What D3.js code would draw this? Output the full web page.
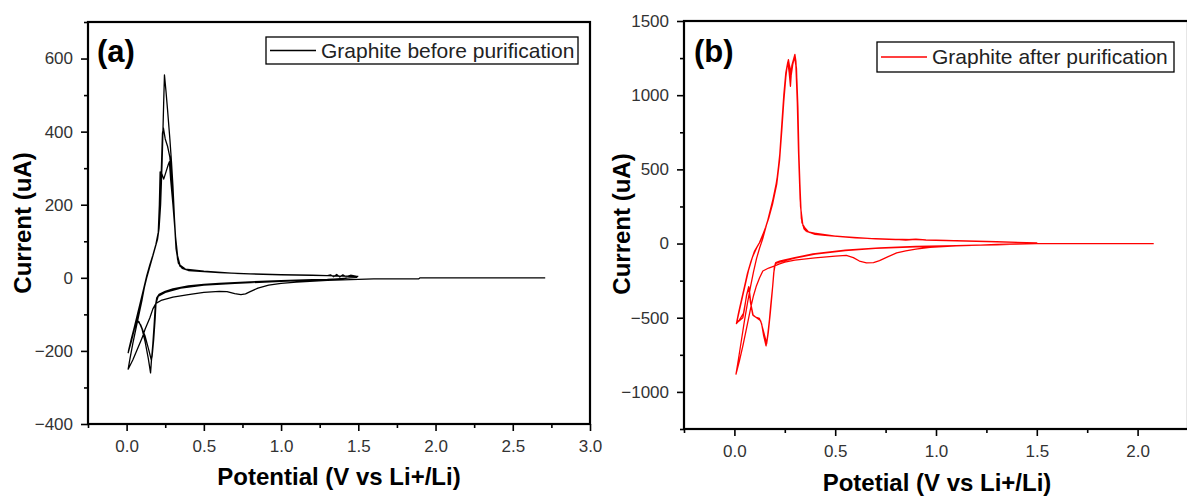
<!DOCTYPE html>
<html>
<head>
<meta charset="utf-8">
<script src="https://cdn.jsdelivr.net/npm/d3@7"></script>
<style>
  body { margin: 0; background: #fff; }
  text { font-family: "Liberation Sans", Arial, sans-serif; }
  .tick text { font-family: "Liberation Sans Narrow", "Arial Narrow", "Liberation Sans", sans-serif; }
</style>
</head>
<body>
<div id="chart"></div>
<script>

// ---------- panel (a): graphite before purification, [V, uA] ----------
var aCathodic1 = [[2.71,0],[2.3,0],[1.9,0],[1.89,-3],[1.6,-3],[1.5,-4],[1.3,-7],[1.1,-12],[1.0,-15],[0.92,-20],[0.85,-28],[0.8,-38],[0.77,-44],[0.74,-46],[0.7,-43],[0.65,-38],[0.6,-37],[0.5,-40],[0.4,-46],[0.3,-53],[0.223,-62],[0.19,-70],[0.17,-85],[0.15,-110],[0.12,-140],[0.1,-165],[0.07,-195],[0.04,-225],[0.01,-250]];
var aAnodic1 = [[0.01,-250],[0.02,-225],[0.04,-180],[0.06,-140],[0.08,-100],[0.1,-60],[0.12,-15],[0.14,15],[0.16,45],[0.18,75],[0.2,105],[0.21,135],[0.22,200],[0.23,320],[0.24,480],[0.245,555],[0.255,510],[0.265,460],[0.28,380],[0.29,320],[0.3,250],[0.31,160],[0.32,90],[0.33,50],[0.345,32],[0.37,25],[0.4,21],[0.5,17],[0.6,15],[0.7,12],[0.8,11],[1.0,9],[1.2,7],[1.3,6],[1.32,8],[1.34,3],[1.36,9],[1.38,2],[1.4,8],[1.42,3],[1.45,7],[1.49,4]];
var aCathodic2 = [[1.49,2],[1.4,-2],[1.3,-4],[1.2,-5],[1.0,-8],[0.8,-11],[0.6,-15],[0.5,-18],[0.4,-22],[0.3,-30],[0.25,-37],[0.21,-45],[0.195,-55],[0.185,-80],[0.178,-130],[0.17,-180],[0.16,-230],[0.155,-260],[0.14,-220],[0.12,-175],[0.1,-140],[0.08,-120],[0.065,-117],[0.05,-135],[0.03,-170],[0.01,-205]];
var aAnodic2 = [[0.01,-205],[0.03,-175],[0.05,-140],[0.07,-105],[0.09,-70],[0.11,-35],[0.13,0],[0.15,30],[0.17,60],[0.19,90],[0.205,120],[0.215,180],[0.225,300],[0.232,395],[0.238,410],[0.25,380],[0.265,360],[0.28,330],[0.29,280],[0.3,220],[0.31,150],[0.32,80],[0.335,40],[0.36,26],[0.4,20],[0.6,14],[0.8,11],[1.0,8],[1.3,6],[1.49,3]];
var aCathodic3 = [[1.49,1],[1.3,-5],[1.0,-10],[0.7,-15],[0.5,-20],[0.35,-28],[0.25,-40],[0.205,-50],[0.19,-70],[0.185,-110],[0.175,-170],[0.165,-215],[0.16,-225],[0.145,-200],[0.12,-160],[0.09,-128],[0.07,-118],[0.05,-140],[0.03,-175],[0.012,-200]];
var aAnodic3 = [[0.012,-200],[0.03,-168],[0.05,-135],[0.07,-100],[0.09,-65],[0.11,-30],[0.13,5],[0.15,35],[0.17,62],[0.19,92],[0.205,125],[0.212,200],[0.217,290],[0.228,285],[0.24,270],[0.255,290],[0.27,310],[0.277,318],[0.285,270],[0.3,200],[0.315,120],[0.33,60],[0.345,35],[0.38,24],[0.5,18],[0.7,12],[1.0,8],[1.3,6],[1.5,4]];

// ---------- panel (b): graphite after purification, [V, uA] ----------
var bCathodic1 = [[2.08,0],[1.8,0],[1.5,-1],[1.4,-4],[1.3,-8],[1.22,-11],[1.1,-16],[0.97,-25],[0.9,-38],[0.85,-50],[0.805,-63],[0.76,-90],[0.72,-115],[0.69,-128],[0.655,-130],[0.62,-118],[0.59,-95],[0.555,-80],[0.5,-85],[0.4,-97],[0.3,-112],[0.25,-125],[0.224,-137],[0.2,-150],[0.17,-165],[0.141,-185],[0.125,-230],[0.108,-290],[0.095,-350],[0.083,-420],[0.065,-540],[0.042,-690],[0.025,-790],[0.008,-880]];
var bAnodic1 = [[0.008,-880],[0.02,-780],[0.035,-650],[0.05,-520],[0.065,-400],[0.08,-290],[0.095,-190],[0.11,-100],[0.125,-30],[0.14,30],[0.166,160],[0.19,290],[0.21,420],[0.224,580],[0.235,800],[0.245,1000],[0.255,1150],[0.265,1225],[0.272,1150],[0.278,1060],[0.285,1200],[0.295,1250],[0.3,1275],[0.305,1230],[0.31,1100],[0.315,920],[0.32,600],[0.325,400],[0.332,170],[0.345,100],[0.357,83],[0.4,62],[0.45,55],[0.522,48],[0.6,40],[0.7,32],[0.8,27],[0.9,26],[1.05,22],[1.2,15],[1.3,12],[1.4,8],[1.5,5]];
var bCathodic2 = [[1.5,3],[1.4,-3],[1.3,-6],[1.22,-10],[1.1,-14],[0.9,-20],[0.72,-29],[0.55,-45],[0.39,-70],[0.3,-95],[0.25,-110],[0.224,-119],[0.205,-128],[0.198,-160],[0.19,-287],[0.18,-420],[0.174,-511],[0.165,-620],[0.157,-690],[0.145,-620],[0.135,-540],[0.124,-505],[0.105,-495],[0.091,-480],[0.08,-400],[0.071,-290],[0.06,-350],[0.05,-440],[0.042,-500],[0.02,-525],[0.01,-540]];
var bAnodic2 = [[0.01,-540],[0.02,-470],[0.035,-380],[0.05,-290],[0.065,-200],[0.08,-130],[0.1,-50],[0.124,5],[0.15,90],[0.17,170],[0.19,270],[0.21,400],[0.224,560],[0.235,760],[0.245,960],[0.255,1120],[0.262,1200],[0.268,1240],[0.275,1180],[0.28,1120],[0.29,1210],[0.298,1260],[0.305,1200],[0.312,950],[0.318,620],[0.326,300],[0.335,140],[0.36,80],[0.45,55],[0.6,38],[0.8,28],[0.85,24],[0.9,29],[0.95,24],[1.0,22],[1.2,14],[1.4,8],[1.5,4]];
var bCathodic3 = [[1.5,2],[1.3,-7],[1.1,-15],[0.9,-22],[0.7,-32],[0.55,-48],[0.4,-72],[0.3,-98],[0.224,-125],[0.203,-135],[0.195,-200],[0.188,-320],[0.178,-470],[0.168,-600],[0.16,-675],[0.148,-610],[0.13,-520],[0.11,-500],[0.093,-485],[0.082,-410],[0.073,-300],[0.062,-340],[0.045,-470],[0.025,-515],[0.012,-530]];
var bAnodic3 = [[0.012,-530],[0.025,-450],[0.04,-360],[0.055,-270],[0.07,-180],[0.09,-90],[0.11,-30],[0.13,20],[0.155,110],[0.18,220],[0.2,340],[0.215,470],[0.228,640],[0.24,880],[0.25,1060],[0.26,1180],[0.267,1230],[0.273,1200],[0.283,1150],[0.292,1230],[0.3,1265],[0.308,1180],[0.314,900],[0.32,550],[0.328,250],[0.34,120],[0.37,75],[0.5,50],[0.7,32],[0.9,26],[1.1,20],[1.3,12],[1.45,6],[1.5,4]];

// tick values
var aXTicks = [0, 0.5, 1.0, 1.5, 2.0, 2.5, 3.0];
var aXMinor = [-0.25, 0.25, 0.75, 1.25, 1.75, 2.25, 2.75];
var aYTicks = [-400, -200, 0, 200, 400, 600];
var aYMinor = [-300, -100, 100, 300, 500, 700];
var bXTicks = [0, 0.5, 1.0, 1.5, 2.0];
var bXMinor = [-0.25, 0.25, 0.75, 1.25, 1.75, 2.25];
var bYTicks = [-1000, -500, 0, 500, 1000, 1500];
var bYMinor = [-1250, -750, -250, 250, 750, 1250];

var W = 1187, H = 497;

var svg = d3.select("#chart")
    .append("svg")
    .attr("width", W)
    .attr("height", H)
    .style("display", "block");

svg.append("rect").attr("width", W).attr("height", H).attr("fill", "#fff");

var panels = [
    {
        curve: [].concat(aCathodic1, aAnodic1, aCathodic2, aAnodic2, aCathodic3, aAnodic3),
        color: "#000",
        xDomain: [-0.25, 3.0], xRange: [88, 590],
        yDomain: [-400, 700], yRange: [424, 22],
        xTicks: aXTicks, xMinor: aXMinor, yTicks: aYTicks, yMinor: aYMinor,
        label: "(a)", labelX: 97, labelY: 62,
        legend: "Graphite before purification", legendBox: [266, 37, 312, 27],
        xTitle: "Potential (V vs Li+/Li)", xTitleX: 339, xTitleY: 485,
        yTitleX: 31, yTitleY: 223
    },
    {
        curve: [].concat(bCathodic1, bAnodic1, bCathodic2, bAnodic2, bCathodic3, bAnodic3),
        color: "#ff0000",
        xDomain: [-0.25, 2.25], xRange: [684, 1188],
        yDomain: [-1250, 1500], yRange: [429, 21],
        xTicks: bXTicks, xMinor: bXMinor, yTicks: bYTicks, yMinor: bYMinor,
        label: "(b)", labelX: 694, labelY: 62,
        legend: "Graphite after purification", legendBox: [877, 42, 297, 30],
        xTitle: "Potetial (V vs Li+/Li)", xTitleX: 937, xTitleY: 491,
        yTitleX: 630, yTitleY: 224
    }
];

panels.forEach(function(p) {
    var g = svg.append("g");

    var x = d3.scaleLinear().domain(p.xDomain).range(p.xRange);
    var y = d3.scaleLinear().domain(p.yDomain).range(p.yRange);

    // curves, clipped to the frame
    var clipId = "clip" + p.label.replace(/\W/g, "");
    g.append("clipPath").attr("id", clipId)
        .append("rect")
        .attr("x", p.xRange[0]).attr("y", p.yRange[1])
        .attr("width", p.xRange[1] - p.xRange[0])
        .attr("height", p.yRange[0] - p.yRange[1]);

    var line = d3.line()
        .x(function(d) { return x(d[0]); })
        .y(function(d) { return y(d[1]); });

    g.append("path")
        .datum(p.curve)
        .attr("clip-path", "url(#" + clipId + ")")
        .attr("d", line)
        .attr("fill", "none")
        .attr("stroke", p.color)
        .attr("stroke-width", 1.3)
        .attr("stroke-linejoin", "round");

    // X axis (major + minor)
    g.append("g")
        .attr("transform", "translate(0," + p.yRange[0] + ")")
        .call(d3.axisBottom(x).tickValues(p.xTicks).tickSize(7).tickPadding(9).tickFormat(d3.format(".1f")))
        .call(function(a) {
            a.select(".domain").remove();
            a.selectAll("line").attr("stroke-width", 1.6);
            a.selectAll("text").attr("font-size", "17px").attr("fill", "#333");
        });
    g.append("g")
        .attr("transform", "translate(0," + p.yRange[0] + ")")
        .call(d3.axisBottom(x).tickValues(p.xMinor).tickSize(4).tickFormat(""))
        .call(function(a) {
            a.select(".domain").remove();
            a.selectAll("line").attr("stroke-width", 1.6);
        });

    // Y axis (major + minor)
    g.append("g")
        .attr("transform", "translate(" + p.xRange[0] + ",0)")
        .call(d3.axisLeft(y).tickValues(p.yTicks).tickSize(7).tickPadding(8).tickFormat(d3.format("d")))
        .call(function(a) {
            a.select(".domain").remove();
            a.selectAll("line").attr("stroke-width", 1.6);
            a.selectAll("text").attr("font-size", "17px").attr("fill", "#333");
        });
    g.append("g")
        .attr("transform", "translate(" + p.xRange[0] + ",0)")
        .call(d3.axisLeft(y).tickValues(p.yMinor).tickSize(4).tickFormat(""))
        .call(function(a) {
            a.select(".domain").remove();
            a.selectAll("line").attr("stroke-width", 1.6);
        });

    // frame
    g.append("rect")
        .attr("x", p.xRange[0]).attr("y", p.yRange[1])
        .attr("width", p.xRange[1] - p.xRange[0])
        .attr("height", p.yRange[0] - p.yRange[1])
        .attr("fill", "none")
        .attr("stroke", "#000")
        .attr("stroke-width", 2.2);

    // panel label
    g.append("text")
        .attr("x", p.labelX).attr("y", p.labelY)
        .attr("font-size", "31px")
        .attr("font-weight", "bold")
        .text(p.label);

    // legend
    var lb = p.legendBox;
    g.append("rect")
        .attr("x", lb[0]).attr("y", lb[1])
        .attr("width", lb[2]).attr("height", lb[3])
        .attr("fill", "#fff")
        .attr("stroke", "#000")
        .attr("stroke-width", 1.3);
    g.append("line")
        .attr("x1", lb[0] + 4).attr("x2", lb[0] + 50)
        .attr("y1", lb[1] + lb[3] / 2).attr("y2", lb[1] + lb[3] / 2)
        .attr("stroke", p.color)
        .attr("stroke-width", 1.3);
    g.append("text")
        .attr("x", lb[0] + 55).attr("y", lb[1] + lb[3] / 2 + 7)
        .attr("font-family", "'Liberation Sans Narrow', 'Arial Narrow', sans-serif")
        .attr("font-size", "21px")
        .attr("fill", "#222")
        .text(p.legend);

    // axis titles
    g.append("text")
        .attr("x", p.xTitleX).attr("y", p.xTitleY)
        .attr("text-anchor", "middle")
        .attr("font-size", "24px")
        .attr("font-weight", "bold")
        .text(p.xTitle);

    g.append("text")
        .attr("transform", "translate(" + p.yTitleX + "," + p.yTitleY + ") rotate(-90)")
        .attr("text-anchor", "middle")
        .attr("font-size", "24px")
        .attr("font-weight", "bold")
        .text("Current (uA)");
});

</script>
</body>
</html>
